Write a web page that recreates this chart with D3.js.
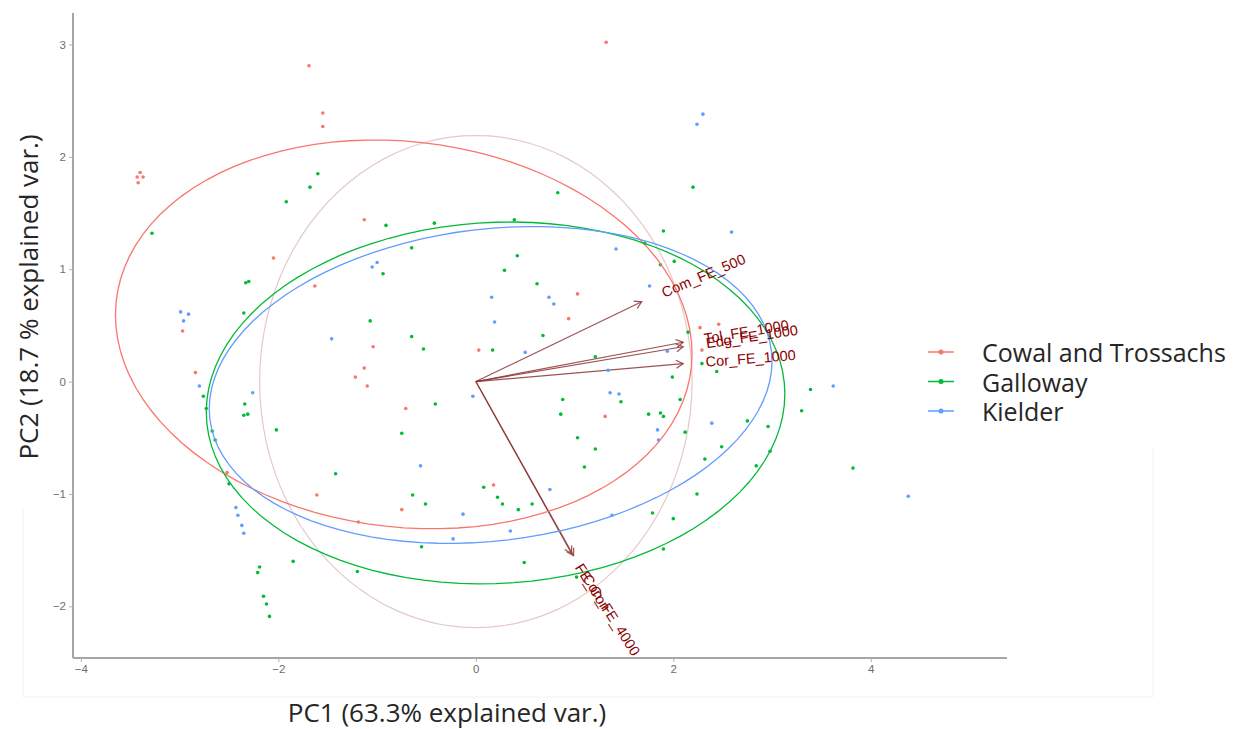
<!DOCTYPE html>
<html>
<head>
<meta charset="utf-8">
<script src="https://cdn.jsdelivr.net/npm/d3@7"></script>
<style>
	body { margin: 0; background: #fff; }
	svg { display: block; }
</style>
</head>
<body>
<div id="chart"><svg width="1243" height="729"></svg></div>
<script>
// groups and colours (ggplot defaults)
const groups = ['Cowal and Trossachs', 'Galloway', 'Kielder'];
const groupColors = ['#F8766D', '#00BA38', '#619CFF'];

// PC scores, [PC1, PC2]
const cowalPts = [
	[-1.69, 2.81], [-1.55, 2.39], [-1.55, 2.27], [-3.40, 1.86], [-3.43, 1.82], [-3.37, 1.82], [-3.42, 1.77],
	[-1.13, 1.44], [-2.05, 1.10], [-1.63, 0.85], [-2.97, 0.45], [1.32, 3.02], [1.03, 0.78], [0.94, 0.56],
	[0.03, 0.28], [2.27, 0.48], [2.29, 0.28], [2.46, 0.51], [-1.13, 0.12], [-1.22, 0.04], [-1.10, -0.04],
	[-2.84, 0.08], [-2.52, -0.81], [-1.61, -1.01], [-1.19, -1.25], [-0.75, -1.14], [1.31, -0.31],
	[0.18, -0.92], [-1.04, 0.31], [-0.71, -0.24]
];
const gallowayPts = [
	[-3.28, 1.32], [-1.60, 1.85], [-1.68, 1.73], [-1.92, 1.60], [-0.91, 1.39], [-0.65, 1.19], [-0.94, 0.96],
	[-2.33, 0.88], [-2.30, 0.89], [-2.35, 0.61], [-1.07, 0.54], [-0.65, 0.40], [2.20, 1.73], [0.83, 1.68],
	[1.90, 1.34], [-0.42, 1.41], [0.39, 1.44], [0.42, 1.12], [0.29, 0.99], [1.71, 1.23], [1.87, 1.04],
	[2.01, 1.07], [0.62, 0.87], [0.68, 0.41], [-0.53, 0.29], [0.17, 0.28], [1.21, 0.22], [2.15, 0.44],
	[2.29, 0.16], [2.44, 0.09], [1.99, 0.04], [-2.76, -0.13], [-2.73, -0.24], [-2.34, -0.20], [-2.31, -0.29],
	[-2.35, -0.30], [-2.67, -0.44], [-2.64, -0.52], [-2.02, -0.43], [-2.50, -0.91], [-2.19, -1.65],
	[-2.21, -1.70], [-2.15, -1.91], [-2.12, -1.98], [-2.09, -2.09], [-1.85, -1.60], [-1.20, -1.69],
	[-1.42, -0.82], [-0.41, -0.20], [-0.75, -0.46], [-0.64, -1.01], [-0.51, -1.09], [-0.55, -1.47],
	[0.88, -0.16], [0.86, -0.29], [1.47, -0.18], [1.75, -0.29], [1.87, -0.28], [1.90, -0.31], [2.07, -0.16],
	[2.12, -0.45], [1.03, -0.50], [1.21, -0.60], [1.10, -0.76], [2.75, -0.35], [2.96, -0.40], [3.30, -0.26],
	[3.39, -0.07], [2.49, -0.58], [2.32, -0.69], [2.98, -0.62], [2.84, -0.75], [2.24, -1.00], [2.00, -1.22],
	[1.79, -1.17], [1.90, -1.49], [0.08, -0.94], [0.22, -1.03], [0.27, -1.09], [0.43, -1.14], [0.57, -1.09],
	[0.49, -1.61], [1.02, -1.74], [3.82, -0.77]
];
const kielderPts = [
	[-1.05, 1.02], [-1.00, 1.06], [-2.99, 0.62], [-2.91, 0.60], [-2.96, 0.54], [2.30, 2.38], [2.24, 2.29],
	[2.59, 1.33], [1.42, 1.18], [1.76, 0.85], [0.16, 0.75], [0.74, 0.75], [0.79, 0.69], [0.19, 0.53],
	[0.50, 0.26], [1.94, 0.27], [1.34, 0.10], [-2.80, -0.04], [-2.26, -0.10], [-2.43, -1.12], [-2.41, -1.19],
	[-2.37, -1.28], [-2.35, -1.35], [-0.03, -0.13], [-0.13, -1.18], [-0.23, -1.40], [1.36, -0.10],
	[1.45, -0.11], [1.84, -0.43], [1.85, -0.52], [2.39, -0.37], [0.75, -0.96], [1.38, -1.19], [3.62, -0.04],
	[4.38, -1.02], [-0.56, -0.75], [-1.46, 0.38], [0.35, -1.33]
];

// group ellipses: centre, sd-like half extents and correlation
const ellipseCx = [-0.73, 0.20, 0.15];
const ellipseCy = [0.42, -0.19, -0.03];
const ellipseSx = [2.92, 2.93, 2.85];
const ellipseSy = [1.73, 1.61, 1.41];
const ellipseRho = [-0.10, 0.05, 0.15];

// correlation circle
const circleRadius = 2.19;

// variable loadings (arrows)
const varNames = ['Com_FE_500', 'Tol_FE_1000', 'Edg_FE_1000', 'Cor_FE_1000', 'FE_Con', 'Con_FE_4000'];
const varX = [1.68, 2.10, 2.10, 2.10, 0.97, 0.99];
const varY = [0.71, 0.35, 0.31, 0.16, -1.53, -1.55];

const xTicks = [-4, -2, 0, 2, 4];
const yTicks = [-2, -1, 0, 1, 2, 3];
const xTitle = 'PC1 (63.3% explained var.)';
const yTitle = 'PC2 (18.7 % explained var.)';

const panel = { left: 73, right: 1007, top: 13, bottom: 658 };

var svg = d3.select('#chart > svg');

var xScale = d3.scaleLinear()
	.domain([ -4.08, 5.38 ])
	.range([ panel.left, panel.right ]);
var yScale = d3.scaleLinear()
	.domain([ -2.46, 3.28 ])
	.range([ panel.bottom, panel.top ]);

// faint frame left over from the screenshot
svg.append('path')
	.attr('d', 'M23,507 V697 H1153 V448')
	.attr('fill', 'none')
	.attr('stroke', '#f2f2f2')
	.attr('stroke-width', 1);

svg.append('clipPath').attr('id', 'panelClip')
	.append('rect')
	.attr('x', panel.left).attr('y', panel.top)
	.attr('width', panel.right - panel.left).attr('height', panel.bottom - panel.top);

var plot = svg.append('g').attr('clip-path', 'url(#panelClip)');

var line = d3.line()
	.x(function(d) { return xScale(d[0]) })
	.y(function(d) { return yScale(d[1]) });

var steps = d3.range(0, 101).map(function(i) { return i / 100 * 2 * Math.PI });

// correlation circle
plot.append('path')
	.datum(steps.map(function(t) { return [ circleRadius * Math.cos(t), circleRadius * Math.sin(t) ] }))
	.attr('d', line)
	.attr('fill', 'none')
	.attr('stroke', '#a64d4d')
	.attr('stroke-opacity', 0.3)
	.attr('stroke-width', 1.2);

// arrows
var vars = varNames.map(function(n, i) {
	return { name: n, x: varX[i], y: varY[i], angle: Math.atan(varY[i] / varX[i]) * 180 / Math.PI };
});
var arrowColor = '#8b3535';
var arrowG = plot.append('g').attr('class', 'arrows');
vars.forEach(function(v) {
	var x0 = xScale(0), y0 = yScale(0);
	var x1 = xScale(v.x), y1 = yScale(v.y);
	var a = Math.atan2(y1 - y0, x1 - x0);
	var len = 8, spread = Math.PI / 6;
	arrowG.append('line')
		.attr('x1', x0).attr('y1', y0).attr('x2', x1).attr('y2', y1)
		.attr('stroke', arrowColor).attr('stroke-width', 1.2).attr('stroke-opacity', 0.85);
	arrowG.append('path')
		.attr('d', 'M' + (x1 - len * Math.cos(a - spread)) + ',' + (y1 - len * Math.sin(a - spread)) +
			'L' + x1 + ',' + y1 +
			'L' + (x1 - len * Math.cos(a + spread)) + ',' + (y1 - len * Math.sin(a + spread)))
		.attr('fill', 'none')
		.attr('stroke', arrowColor).attr('stroke-width', 1.2).attr('stroke-opacity', 0.85);
});

// points
var allPts = [ cowalPts, gallowayPts, kielderPts ];
allPts.forEach(function(pts, gi) {
	plot.append('g').selectAll('circle')
		.data(pts)
		.join('circle')
		.attr('cx', function(d) { return xScale(d[0]) })
		.attr('cy', function(d) { return yScale(d[1]) })
		.attr('r', 1.8)
		.attr('fill', groupColors[gi]);
});

// ellipses
groups.forEach(function(g, gi) {
	var k = Math.sqrt(1 - ellipseRho[gi] * ellipseRho[gi]);
	var pts = steps.map(function(t) {
		return [ ellipseCx[gi] + ellipseSx[gi] * Math.cos(t),
			ellipseCy[gi] + ellipseSy[gi] * (ellipseRho[gi] * Math.cos(t) + k * Math.sin(t)) ];
	});
	plot.append('path')
		.datum(pts)
		.attr('d', line)
		.attr('fill', 'none')
		.attr('stroke', groupColors[gi])
		.attr('stroke-width', 1.3);
});

// variable labels
var labG = plot.append('g').selectAll('g')
	.data(vars)
	.join('g')
	.attr('transform', function(d) { return 'translate(' + xScale(d.x) + ',' + yScale(d.y) + ') rotate(' + (-d.angle) + ')' });
labG.append('text')
	.text(function(d) { return d.name })
	.attr('dominant-baseline', 'central')
	.style('font-family', 'Liberation Sans, Arial, sans-serif')
	.style('font-size', '14.5px')
	.attr('fill', '#8B0000')
	.each(function() {
		var w = this.getComputedTextLength();
		d3.select(this).attr('x', 0.25 * w);
	});

// axes
var xAxis = svg.append('g')
	.attr('transform', 'translate(0,' + panel.bottom + ')')
	.call(d3.axisBottom(xScale).tickValues(xTicks).tickFormat(d3.format('d')).tickSize(4).tickSizeOuter(0));
var yAxis = svg.append('g')
	.attr('transform', 'translate(' + panel.left + ',0)')
	.call(d3.axisLeft(yScale).tickValues(yTicks).tickFormat(d3.format('d')).tickSize(4).tickSizeOuter(0));
[ xAxis, yAxis ].forEach(function(ax) {
	ax.select('.domain').attr('stroke', '#a6a6a6').attr('stroke-width', 2);
	ax.selectAll('.tick line').attr('stroke', '#b0b0b0');
	ax.selectAll('.tick text')
		.attr('fill', '#6e6e6e')
		.style('font-family', 'Liberation Sans, Arial, sans-serif')
		.style('font-size', '11.5px');
});
xAxis.select('.domain').attr('d', 'M' + panel.left + ',0H' + panel.right);
yAxis.select('.domain').attr('d', 'M0,' + panel.top + 'V' + panel.bottom);

// axis titles
svg.append('text')
	.attr('x', 447).attr('y', 722)
	.attr('text-anchor', 'middle')
	.style('font-family', 'Open Sans, sans-serif')
	.style('font-size', '26px')
	.attr('fill', '#262626')
	.text(xTitle);
svg.append('text')
	.attr('transform', 'translate(38,297) rotate(-90)')
	.attr('text-anchor', 'middle')
	.style('font-family', 'Open Sans, sans-serif')
	.style('font-size', '26px')
	.attr('fill', '#262626')
	.text(yTitle);

// legend
var legend = svg.append('g').attr('transform', 'translate(928,352)');
groups.forEach(function(g, i) {
	var row = legend.append('g').attr('transform', 'translate(0,' + (i * 29.5) + ')');
	row.append('line')
		.attr('x1', 0).attr('x2', 26).attr('y1', 0).attr('y2', 0)
		.attr('stroke', groupColors[i]).attr('stroke-width', 1.5);
	row.append('circle')
		.attr('cx', 13).attr('cy', 0).attr('r', 2.5)
		.attr('fill', groupColors[i]);
	row.append('text')
		.attr('x', 54).attr('y', 0)
		.attr('dominant-baseline', 'central')
		.style('font-family', 'Open Sans, sans-serif')
		.style('font-size', '25px')
		.attr('fill', '#262626')
		.text(g);
});
</script>
</body>
</html>
